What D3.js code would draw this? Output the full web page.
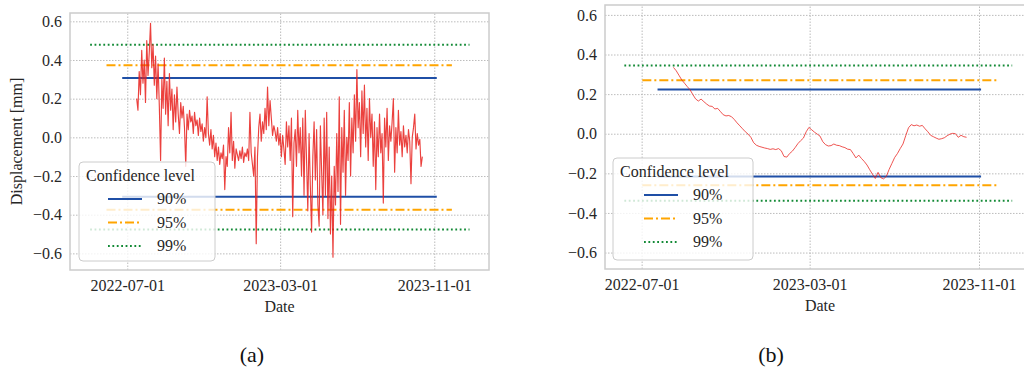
<!DOCTYPE html>
<html>
<head>
<meta charset="utf-8">
<script src="https://cdn.jsdelivr.net/npm/d3@7"></script>
<style>
  html, body { margin: 0; padding: 0; background: #ffffff; }
  svg { display: block; }
  svg text { font-family: "Liberation Serif", "Times New Roman", Times, "DejaVu Serif", "Noto Serif", serif !important; }
</style>
</head>
<body>
<svg id="chart" width="1024" height="374"></svg>
<script>
const LEVEL_NAMES = ["90%", "95%", "99%"];
const LEVEL_COLORS = ["#1f4fa6", "#ffa500", "#138a36"];
const LEVEL_DASHES = [null, "9,3,2,3", "1.8,2.6"];
const Y_TICKS = [-0.6, -0.4, -0.2, 0.0, 0.2, 0.4, 0.6];
const X_TICKS = ["2022-07-01", "2023-03-01", "2023-11-01"];

// panel (a): noisy displacement, one value every 2 days
const LEFT_START = "2022-07-16";
const LEFT_STEP_DAYS = 2;
const LEFT_VALUES = [
  0.20, 0.14, 0.34, 0.22, 0.45, 0.28, 0.40, 0.18, 0.50, 0.32,
  0.44, 0.59, 0.36, 0.48, 0.27, 0.42, 0.20, 0.38, 0.16, -0.12,
  0.30, 0.15, 0.41, 0.12, 0.29, 0.06, 0.33, 0.14, 0.25, 0.04,
  0.22, 0.08, 0.26, 0.12, 0.02, 0.18, 0.10, 0.16, 0.05, -0.15,
  0.12, 0.04, 0.14, 0.08, 0.11, 0.02, 0.13, 0.06, 0.09, 0.01,
  0.10, 0.03, 0.07, -0.02, 0.05, 0.00, 0.21, 0.02, -0.04, 0.04,
  -0.06, 0.01, -0.10, -0.03, -0.12, -0.05, -0.14, -0.08, -0.11, -0.04,
  -0.27, -0.10, -0.15, 0.05, -0.08, 0.13, -0.12, -0.02, -0.16, -0.06,
  -0.09, -0.12, -0.07, -0.11, -0.05, -0.13, -0.08, -0.10, -0.06, -0.12,
  0.13, -0.08, -0.14, -0.20, -0.05, -0.55, -0.10, 0.05, 0.12, -0.02,
  0.08, 0.02, 0.15, 0.04, 0.26, 0.06, 0.19, 0.10, 0.01, 0.06,
  0.03, -0.02, 0.05, -0.04, 0.02, -0.10, 0.01, -0.06, -0.14, 0.08,
  -0.05, 0.06, -0.12, 0.10, -0.41, -0.03, 0.04, -0.15, 0.14, -0.08,
  0.05, -0.20, 0.10, -0.30, 0.14, -0.12, -0.38, 0.02, -0.25, -0.49,
  -0.10, 0.08, -0.22, 0.04, -0.35, -0.46, 0.06, -0.18, -0.40, 0.10,
  -0.30, 0.13, -0.42, -0.05, -0.50, -0.20, -0.62, -0.15, -0.35, 0.02,
  -0.28, 0.21, -0.45, 0.05, -0.18, 0.14, -0.30, 0.00, -0.12, 0.18,
  -0.20, 0.10, -0.08, 0.22, -0.02, 0.35, 0.05, 0.18, -0.10, 0.24,
  0.02, 0.27, -0.05, 0.15, -0.12, 0.20, 0.00, 0.12, -0.15, 0.08,
  -0.27, 0.05, -0.10, 0.12, -0.08, 0.02, -0.34, 0.10, -0.05, 0.15,
  -0.12, 0.06, -0.02, 0.08, 0.20, -0.18, 0.05, -0.08, 0.14, -0.04,
  0.03, -0.10, 0.06, -0.05, 0.01, -0.08, 0.04, -0.02, -0.24, 0.00,
  0.05, 0.12, -0.06, 0.02, -0.04, -0.01, -0.15, -0.10
];
const LEFT_UPPER = [0.307, 0.373, 0.479];
const LEFT_LOWER = [-0.307, -0.374, -0.477];
const LEFT_SPANS = [
  ["2022-06-23", "2023-11-05"],
  ["2022-05-29", "2023-11-29"],
  ["2022-05-03", "2023-12-27"]
];

// panel (b): smoothed displacement, one value every 4 days
const RIGHT_START = "2022-08-16";
const RIGHT_STEP_DAYS = 4;
const RIGHT_VALUES = [
  0.335, 0.318, 0.295, 0.272, 0.255, 0.238, 0.222, 0.198, 0.176, 0.165,
  0.175, 0.162, 0.150, 0.140, 0.138, 0.125, 0.128, 0.112, 0.096, 0.090,
  0.092, 0.086, 0.072, 0.055, 0.040, 0.025, 0.010, -0.002, -0.018, -0.045,
  -0.058, -0.064, -0.068, -0.072, -0.075, -0.079, -0.076, -0.080, -0.075, -0.086,
  -0.115, -0.118, -0.100, -0.088, -0.070, -0.050, -0.035, -0.022, 0.010, 0.032,
  0.020, 0.008, -0.002, -0.012, -0.040, -0.055, -0.062, -0.060, -0.052, -0.058,
  -0.060, -0.066, -0.070, -0.078, -0.080, -0.100, -0.122, -0.108, -0.125, -0.140,
  -0.158, -0.182, -0.205, -0.226, -0.195, -0.222, -0.228, -0.215, -0.180, -0.150,
  -0.120, -0.100, -0.075, -0.052, -0.010, 0.030, 0.046, 0.040, 0.044, 0.038,
  0.042, 0.025, 0.010, -0.008, -0.015, -0.022, -0.028, -0.025, -0.020, -0.010,
  -0.002, 0.002, 0.000, -0.018, -0.008, -0.015, -0.018
];
const RIGHT_UPPER = [0.223, 0.270, 0.344];
const RIGHT_LOWER = [-0.216, -0.260, -0.339];
const RIGHT_SPANS = [
  ["2022-07-24", "2023-11-04"],
  ["2022-07-02", "2023-11-27"],
  ["2022-06-06", "2023-12-19"]
];

const FONT = "'Liberation Serif', 'Times New Roman', Times, 'DejaVu Serif', serif";
const parseDate = d3.timeParse("%Y-%m-%d");


class Panel {

  constructor(cfg) {
    const self = this;
    self._cfg = cfg;
    self._x = d3.scaleTime()
      .domain(cfg.xDomain.map(parseDate))
      .range([cfg.left, cfg.right]);
    self._y = d3.scaleLinear()
      .domain(cfg.yDomain)
      .range([cfg.bottom, cfg.top]);
  }

  draw(svg) {
    const self = this;
    const cfg = self._cfg;
    const g = svg.append("g");

    self._drawGrid(g);
    self._drawLevels(g);

    const points = cfg.values.map((v, i) => ({
      date: d3.timeDay.offset(parseDate(cfg.start), i * cfg.step),
      value: v
    }));
    const line = d3.line()
      .x((d) => self._x(d.date))
      .y((d) => self._y(d.value));
    g.append("path")
      .datum(points)
      .attr("fill", "none")
      .attr("stroke", "#e8201c")
      .attr("stroke-opacity", 0.85)
      .attr("stroke-width", cfg.redWidth)
      .attr("stroke-linejoin", "round")
      .attr("d", line);

    g.append("rect")
      .attr("x", cfg.left)
      .attr("y", cfg.top)
      .attr("width", cfg.right - cfg.left)
      .attr("height", cfg.bottom - cfg.top)
      .attr("fill", "none")
      .attr("stroke", "#cccccc")
      .attr("stroke-width", 1.5);

    self._drawAxes(g);
    self._drawLegend(g);
  }

  _drawGrid(g) {
    const self = this;
    const cfg = self._cfg;

    const yAxis = d3.axisLeft(self._y)
      .tickValues(Y_TICKS)
      .tickSize(-(cfg.right - cfg.left))
      .tickFormat("");
    const yg = g.append("g")
      .attr("transform", "translate(" + cfg.left + ",0)")
      .call(yAxis);
    yg.select(".domain").remove();

    const xAxis = d3.axisBottom(self._x)
      .tickValues(X_TICKS.map(parseDate))
      .tickSize(-(cfg.bottom - cfg.top))
      .tickFormat("");
    const xg = g.append("g")
      .attr("transform", "translate(0," + cfg.bottom + ")")
      .call(xAxis);
    xg.select(".domain").remove();

    g.selectAll(".tick line")
      .attr("stroke", "#b4b4b4")
      .attr("stroke-width", 0.9)
      .attr("stroke-dasharray", "1.5,1.5");
  }

  _drawLevels(g) {
    const self = this;
    const cfg = self._cfg;

    LEVEL_NAMES.forEach((name, i) => {
      [cfg.upper[i], cfg.lower[i]].forEach((v) => {
        g.append("line")
          .attr("x1", self._x(parseDate(cfg.spans[i][0])))
          .attr("x2", self._x(parseDate(cfg.spans[i][1])))
          .attr("y1", self._y(v))
          .attr("y2", self._y(v))
          .attr("stroke", LEVEL_COLORS[i])
          .attr("stroke-width", 2)
          .attr("stroke-dasharray", LEVEL_DASHES[i]);
      });
    });
  }

  _drawAxes(g) {
    const self = this;
    const cfg = self._cfg;
    const fmt = (v) => d3.format(".1f")(v).replace("-", "\u2212");

    const yAxis = d3.axisLeft(self._y)
      .tickValues(Y_TICKS)
      .tickSize(0)
      .tickPadding(8)
      .tickFormat(fmt);
    const yg = g.append("g")
      .attr("transform", "translate(" + cfg.left + ",0)")
      .call(yAxis);

    const xAxis = d3.axisBottom(self._x)
      .tickValues(X_TICKS.map(parseDate))
      .tickSize(0)
      .tickPadding(10)
      .tickFormat(d3.timeFormat("%Y-%m-%d"));
    const xg = g.append("g")
      .attr("transform", "translate(0," + cfg.bottom + ")")
      .call(xAxis);

    [yg, xg].forEach((ax) => {
      ax.attr("font-family", FONT);
      ax.select(".domain").remove();
      ax.selectAll("text")
        .attr("font-family", FONT)
        .attr("font-size", 16)
        .attr("fill", "#262626");
    });

    g.append("text")
      .attr("x", (cfg.left + cfg.right) / 2)
      .attr("y", cfg.bottom + 42)
      .attr("text-anchor", "middle")
      .attr("font-family", FONT)
      .attr("font-size", 16)
      .attr("fill", "#262626")
      .text("Date");

    if (cfg.yLabel) {
      g.append("text")
        .attr("transform", "translate(" + (cfg.left - 48) + "," + ((cfg.top + cfg.bottom) / 2) + ") rotate(-90)")
        .attr("text-anchor", "middle")
        .attr("font-family", FONT)
        .attr("font-size", 16)
        .attr("fill", "#262626")
        .text(cfg.yLabel);
    }

    g.append("text")
      .attr("x", cfg.captionX)
      .attr("y", 362)
      .attr("text-anchor", "middle")
      .attr("font-family", FONT)
      .attr("font-size", 22)
      .attr("fill", "#111111")
      .text(cfg.caption);
  }

  _drawLegend(g) {
    const self = this;
    const lg = self._cfg.legend;
    const box = g.append("g")
      .attr("transform", "translate(" + lg.x + "," + lg.y + ")");

    box.append("rect")
      .attr("width", lg.w)
      .attr("height", lg.h)
      .attr("rx", 4)
      .attr("fill", "#ffffff")
      .attr("fill-opacity", 0.8)
      .attr("stroke", "#cccccc")
      .attr("stroke-width", 1);

    box.append("text")
      .attr("x", 7)
      .attr("y", 19)
      .attr("font-family", FONT)
      .attr("font-size", 16)
      .attr("fill", "#262626")
      .text("Confidence level");

    LEVEL_NAMES.forEach((name, i) => {
      const cy = 37 + i * 23.5;
      box.append("line")
        .attr("x1", lg.handleX)
        .attr("x2", lg.handleX + 34)
        .attr("y1", cy)
        .attr("y2", cy)
        .attr("stroke", LEVEL_COLORS[i])
        .attr("stroke-width", 2)
        .attr("stroke-dasharray", LEVEL_DASHES[i]);
      box.append("text")
        .attr("x", lg.handleX + 49)
        .attr("y", cy + 5)
        .attr("font-family", FONT)
        .attr("font-size", 16)
        .attr("fill", "#262626")
        .text(name);
    });
  }

}


const svg = d3.select("#chart");

new Panel({
  left: 70, right: 489, top: 13, bottom: 270,
  xDomain: ["2022-04-01", "2024-01-27"],
  yDomain: [-0.686, 0.643],
  start: LEFT_START, step: LEFT_STEP_DAYS, values: LEFT_VALUES,
  upper: LEFT_UPPER, lower: LEFT_LOWER, spans: LEFT_SPANS,
  redWidth: 1.15,
  yLabel: "Displacement [mm]",
  caption: "(a)", captionX: 252,
  legend: { x: 79, y: 162, w: 136, h: 99, handleX: 29 }
}).draw(svg);

new Panel({
  left: 605, right: 1035, top: 5, bottom: 269,
  xDomain: ["2022-05-09", "2024-01-21"],
  yDomain: [-0.683, 0.65],
  start: RIGHT_START, step: RIGHT_STEP_DAYS, values: RIGHT_VALUES,
  upper: RIGHT_UPPER, lower: RIGHT_LOWER, spans: RIGHT_SPANS,
  redWidth: 0.9,
  yLabel: null,
  caption: "(b)", captionX: 771,
  legend: { x: 613, y: 158, w: 140, h: 102, handleX: 31 }
}).draw(svg);
</script>
</body>
</html>
